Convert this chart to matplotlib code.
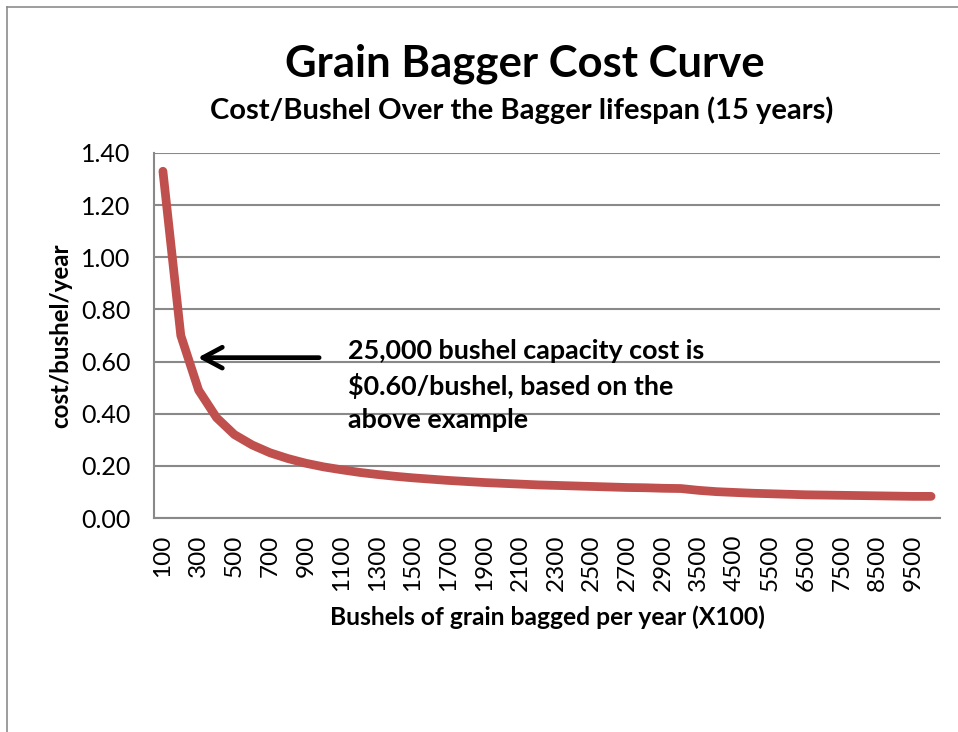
import matplotlib
matplotlib.use("Agg")
import matplotlib.pyplot as plt
from matplotlib.lines import Line2D

plt.rcParams['font.family'] = ['Lato', 'DejaVu Sans']

# bushels bagged per year (x100), categories on the x axis
bushels = [100, 200, 300, 400, 500, 600, 700, 800, 900, 1000,
           1100, 1200, 1300, 1400, 1500, 1600, 1700, 1800, 1900, 2000,
           2100, 2200, 2300, 2400, 2500, 2600, 2700, 2800, 2900, 3000,
           3500, 4000, 4500, 5000, 5500, 6000, 6500, 7000, 7500, 8000,
           8500, 9000, 9500, 10000]
# cost per bushel per year
cost = [1.33, 0.70, 0.49, 0.385, 0.32, 0.28, 0.25, 0.228, 0.21, 0.196,
        0.185, 0.175, 0.167, 0.160, 0.154, 0.149, 0.144, 0.140, 0.136, 0.133,
        0.130, 0.127, 0.125, 0.123, 0.121, 0.119, 0.117, 0.116, 0.114, 0.113,
        0.106, 0.101, 0.098, 0.095, 0.093, 0.091, 0.089, 0.088, 0.087, 0.086,
        0.085, 0.084, 0.083, 0.083]
y_ticks = [0.0, 0.2, 0.4, 0.6, 0.8, 1.0, 1.2, 1.4]

grid_c = '#898989'
line_c = '#C0504D'

fig = plt.figure(figsize=(9.58, 7.32), dpi=100)
ax = fig.add_axes([154 / 958, 1 - 518 / 732, 786 / 958, 365 / 732])

x = list(range(len(bushels)))
ax.plot(x, cost, color=line_c, lw=6.3, solid_capstyle='round', solid_joinstyle='round', zorder=3)

ax.set_xlim(-0.5, len(bushels) - 0.5)
ax.set_ylim(0, 1.4)
ax.set_yticks(y_ticks)
ax.set_yticklabels(['%.2f' % v for v in y_ticks])
ax.set_xticks(x[::2])
ax.set_xticklabels([str(b) for b in bushels[::2]], rotation=90, va='top', ha='center')
ax.tick_params(axis='y', length=0, pad=17, labelsize=18)
ax.tick_params(axis='x', length=0, pad=12, labelsize=17.5)

ax.grid(axis='y', color=grid_c, lw=1.5)
ax.set_axisbelow(True)
for s in ['top', 'right']:
    ax.spines[s].set_visible(False)
for s in ['left', 'bottom']:
    ax.spines[s].set_color(grid_c)
    ax.spines[s].set_linewidth(1.5)

ax.set_ylabel('cost/bushel/year', fontsize=17.4, fontweight='bold', labelpad=6)
ax.set_xlabel('Bushels of grain bagged per year (X100)', fontsize=17.7, fontweight='bold', labelpad=10)

fig.text(0.548, 0.913, 'Grain Bagger Cost Curve', fontsize=31.4, fontweight='bold', ha='center', va='center')
fig.text(0.545, 0.849, 'Cost/Bushel Over the Bagger lifespan (15 years)', fontsize=21, fontweight='bold', ha='center', va='center')

# annotation arrow + note
ax.annotate('', xy=(1.8, 0.615), xytext=(8.9, 0.615),
            arrowprops=dict(arrowstyle='->,head_length=1.4,head_width=0.75', lw=3.4, color='black'))
ax.text(0.247, 0.49, '25,000 bushel capacity cost is\n$0.60/bushel, based on the\nabove example',
        transform=ax.transAxes, fontsize=19.4, fontweight='bold', ha='left', va='top', linespacing=1.45)

# outer chart border (top and left edges)
fig.add_artist(Line2D([7 / 958, 1], [1 - 7 / 732, 1 - 7 / 732], color='#8c8c8c', lw=1.2))
fig.add_artist(Line2D([7 / 958, 7 / 958], [0, 1 - 7 / 732], color='#8c8c8c', lw=1.2))

fig.savefig('out.png', dpi=100)
